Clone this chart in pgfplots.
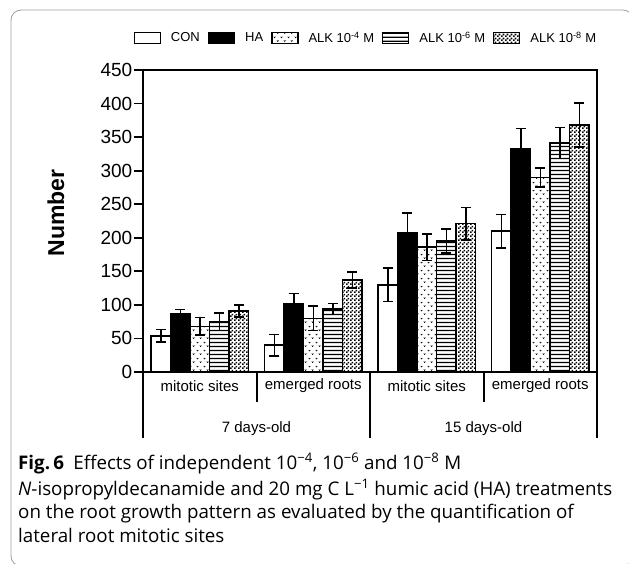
\documentclass[border=0pt]{standalone}
\usepackage{fontspec}
\setmainfont{Liberation Sans}
\newfontfamily\capfont{Open Sans}
\usepackage{pgfplots}
\usepackage{pgfplotstable}
\pgfplotsset{compat=1.18}
\usetikzlibrary{patterns.meta}

\tikzdeclarepattern{
  name=vpat, type=uncolored,
  bottom left={(0pt,0pt)}, top right={(7pt,8pt)}, tile size={(7pt,8pt)},
  code={
    \draw[line width=0.6pt] (0.75pt,6.8pt) -- (1.75pt,5.6pt) -- (2.75pt,6.8pt);
    \draw[line width=0.6pt] (4.25pt,2.8pt) -- (5.25pt,1.6pt) -- (6.25pt,2.8pt);
  }
}
\tikzdeclarepattern{
  name=checkfine, type=uncolored,
  bottom left={(0pt,0pt)}, top right={(3.6pt,3.6pt)}, tile size={(3.6pt,3.6pt)},
  code={
    \fill (0pt,0pt) rectangle (1.8pt,1.8pt);
    \fill (1.8pt,1.8pt) rectangle (3.6pt,3.6pt);
  }
}
\tikzdeclarepattern{
  name=hlines, type=uncolored,
  bottom left={(0pt,0pt)}, top right={(60pt,4pt)}, tile size={(60pt,4pt)},
  code={
    \fill (0pt,1.2pt) rectangle (60pt,2.8pt);
  }
}

\pgfplotsset{
  mylegend/.style={legend image code/.code={\draw[##1,line width=1.3pt] (0pt,-5.5pt) rectangle (26pt,5.5pt);}},
  mybar/.style={draw=black, line width=1.5pt, mylegend,
    error bars/.cd, y dir=both, y explicit,
    error bar style={line width=1.5pt, black, solid},
    error mark options={rotate=90, mark size=5pt, line width=1.5pt, black}}
}

\pgfplotstableread{
x y e
0 54 9
1 40 16
2 130 25
3 210 25
}\con
\pgfplotstableread{
x y e
0 87 6
1 101 16
2 208 29
3 333 30
}\ha
\pgfplotstableread{
x y e
0 68 13
1 80 18
2 186 20
3 290 14
}\alkfour
\pgfplotstableread{
x y e
0 75 13
1 94 8
2 195 18
3 341 23
}\alksix
\pgfplotstableread{
x y e
0 91 9
1 137 12
2 221 24
3 368 33
}\alkeight

\newsavebox\capbox
\newlength\caplen

\begin{document}
\sbox\capbox{\capfont\fontsize{18}{18}\selectfont\textit{N}-isopropyldecanamide and 20 mg C L\textsuperscript{−1} humic acid (HA) treatments}%
\setlength\caplen{\wd\capbox}%
\pgfmathsetmacro\capscale{594/\caplen}%
\begin{tikzpicture}
\useasboundingbox (0pt,0pt) rectangle (629pt,563pt);
\draw[gray!75, line width=0.8pt, rounded corners=10pt] (11pt,-3pt) rectangle (633pt,553pt);

\begin{axis}[
  at={(143pt,191pt)}, anchor=south west,
  scale only axis, width=454pt, height=302pt,
  xmin=-0.5, xmax=3.5, ymin=0, ymax=450,
  ybar=0pt, bar width=19.5pt,
  ytick={0,50,...,450}, xtick=\empty,
  ytick pos=left, tick align=outside,
  major tick length=9pt,
  tick style={line width=1.8pt, black},
  axis line style={line width=1.6pt},
  /pgf/number format/assume math mode=true,
  yticklabel style={font=\fontsize{19}{19}\selectfont, inner sep=1.5pt},
  clip=false,
  legend style={at={(0.491,1.106)}, anchor=center, draw=none,
    legend columns=5, font=\fontsize{13}{13}\selectfont,
    /tikz/every odd column/.append style={column sep=8pt},
    /tikz/every even column/.append style={column sep=6pt}},
]
\addplot[fill=white, mybar] table[x=x,y=y,y error=e]{\con};
\addlegendentry{CON}
\addplot[fill=black, mybar] table[x=x,y=y,y error=e]{\ha};
\addlegendentry{HA}
\addplot[fill=white, postaction={pattern=vpat, pattern color=black}, mybar] table[x=x,y=y,y error=e]{\alkfour};
\addlegendentry{ALK 10\textsuperscript{-4} M}
\addplot[fill=white, postaction={pattern=hlines, pattern color=black}, mybar] table[x=x,y=y,y error=e]{\alksix};
\addlegendentry{ALK 10\textsuperscript{-6} M}
\addplot[fill=white, postaction={pattern=checkfine, pattern color=black}, mybar] table[x=x,y=y,y error=e]{\alkeight};
\addlegendentry{ALK 10\textsuperscript{-8} M}

\draw[line width=2pt] (axis cs:-0.5,0) -- ++(0pt,-66pt);
\draw[line width=2pt] (axis cs:0.5,0) -- ++(0pt,-30pt);
\draw[line width=2pt] (axis cs:1.5,0) -- ++(0pt,-66pt);
\draw[line width=2pt] (axis cs:2.5,0) -- ++(0pt,-30pt);
\draw[line width=2pt] (axis cs:3.5,0) -- ++(0pt,-66pt);
\draw[line width=2.4pt] (axis cs:-0.5,0) -- (axis cs:3.5,0);

\node[font=\fontsize{15}{15}\selectfont, yshift=-14pt] at (axis cs:0,0) {mitotic sites};
\node[font=\fontsize{15}{15}\selectfont, yshift=-14pt] at (axis cs:1,0) {emerged roots};
\node[font=\fontsize{15}{15}\selectfont, yshift=-14pt] at (axis cs:2,0) {mitotic sites};
\node[font=\fontsize{15}{15}\selectfont, yshift=-14pt] at (axis cs:3,0) {emerged roots};
\node[font=\fontsize{15}{15}\selectfont, yshift=-57pt] at (axis cs:0.5,0) {7 days-old};
\node[font=\fontsize{15}{15}\selectfont, yshift=-57pt] at (axis cs:2.5,0) {15 days-old};
\end{axis}

\node[rotate=90, font=\bfseries\fontsize{23}{23}\selectfont] at (56pt,350pt) {Number};

\begin{scope}[every node/.style={anchor=base west, inner sep=0pt, font=\capfont\fontsize{18}{18}\selectfont}]
\node at (18pt,94pt) {\scalebox{\capscale}{\textbf{Fig.\,6}\hspace{0.5em}Effects of independent 10\textsuperscript{−4}, 10\textsuperscript{−6} and 10\textsuperscript{−8} M}};
\node at (18pt,68pt) {\scalebox{\capscale}{\textit{N}-isopropyldecanamide and 20 mg C L\textsuperscript{−1} humic acid (HA) treatments}};
\node at (18pt,45pt) {\scalebox{\capscale}{on the root growth pattern as evaluated by the quantification of}};
\node at (18pt,21pt) {\scalebox{\capscale}{lateral root mitotic sites}};
\end{scope}
\end{tikzpicture}
\end{document}
